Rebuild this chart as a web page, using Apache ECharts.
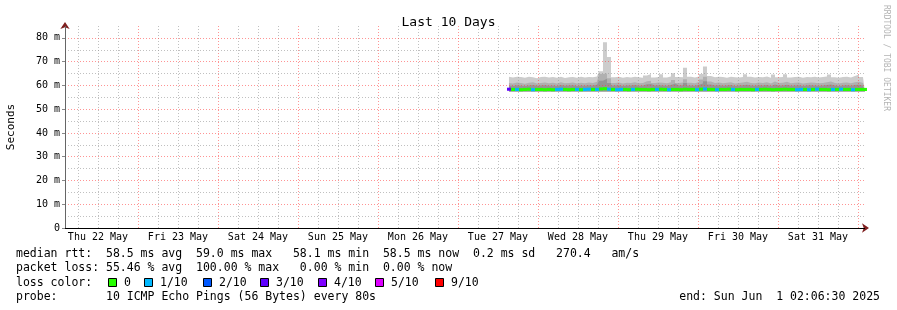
<!DOCTYPE html>
<html><head><meta charset="utf-8">
<script src="https://cdn.jsdelivr.net/npm/echarts@6/dist/echarts.min.js"></script>
<style>html,body{margin:0;padding:0;background:#fff}#c{width:897px;height:310px}</style>
</head><body><div id="c"></div><script>
// ---- data ----
const dayLabels = ['Thu 22 May','Fri 23 May','Sat 24 May','Sun 25 May','Mon 26 May','Tue 27 May','Wed 28 May','Thu 29 May','Fri 30 May','Sat 31 May'];
const yTickValues = [0,10,20,30,40,50,60,70,80];
const axisBase = new Date(2025,4,22,0,0,0);      // day 0 of the x scale
const graphEnd = new Date(2025,5,1,2,6,30);       // "end: Sun Jun  1 02:06:30 2025"
const firstSample = new Date(2025,4,27,15,18,0);
const sampleMinutes = 72;
const smokeFloor = 57.4;                          // lowest ping, ms
// smoke top (max ping), ms
const smokeHi = [
 63.6,63.3,63.6,63.5,63.2,63.6,63.4,63.0,63.5,63.6,
 63.3,63.5,63.2,63.6,63.1,63.4,63.5,63.2,63.6,63.3,
 63.5,63.4,63.8,66.0,78.2,72.0,63.4,63.6,63.2,63.5,
 63.3,63.6,63.4,63.2,64.2,64.8,63.3,63.5,64.7,63.3,
 63.8,65.1,63.5,63.4,67.4,63.6,63.3,63.8,64.8,68.0,
 64.0,63.4,63.6,63.5,63.2,63.6,63.4,63.3,63.5,64.7,
 63.6,63.3,63.5,63.4,63.7,63.2,64.6,63.4,63.5,64.7,
 63.3,63.5,63.6,63.2,63.5,63.4,63.6,63.3,63.5,63.7,
 64.6,63.4,63.2,63.5,63.6,63.3,64.0,64.6,63.5,63.4];
const smokeMid = [
 61.0,60.8,61.2,61.0,60.7,61.1,61.3,60.8,61.0,61.2,
 60.9,61.1,60.8,61.3,60.9,61.0,61.2,60.8,61.1,60.9,
 61.2,61.0,61.5,64.8,65.0,63.0,61.0,61.2,60.8,61.1,
 61.0,61.3,60.9,61.0,61.8,62.0,61.0,61.2,61.1,60.9,
 61.3,62.3,61.0,61.2,62.6,61.1,60.9,61.4,62.5,63.6,
 61.6,61.0,61.2,60.9,61.1,61.3,60.8,61.0,61.2,61.5,
 61.0,60.9,61.2,61.0,61.3,60.8,61.6,61.0,61.1,61.5,
 60.9,61.1,61.2,60.8,61.0,61.2,61.1,60.9,61.0,61.3,
 61.6,61.0,60.8,61.1,61.2,60.9,61.3,61.5,61.0,61.1];
const smokeDark = [
 60.0,59.8,60.1,59.9,59.8,60.0,60.2,59.9,60.0,60.1,
 59.9,60.0,59.8,60.2,59.9,60.0,60.1,59.8,60.0,59.9,
 60.1,60.0,60.3,62.0,62.8,61.0,60.0,60.1,59.8,60.0,
 60.0,60.2,59.9,60.0,60.5,60.6,60.0,60.1,60.0,59.9,
 60.2,60.8,60.0,60.1,61.0,60.0,59.9,60.3,60.8,61.8,
 60.4,60.0,60.1,59.9,60.0,60.2,59.8,60.0,60.1,60.3,
 60.0,59.9,60.1,60.0,60.2,59.8,60.4,60.0,60.0,60.3,
 59.9,60.0,60.1,59.8,60.0,60.1,60.0,59.9,60.0,60.2,
 60.4,60.0,59.8,60.0,60.1,59.9,60.2,60.3,60.0,60.0];
const medianRtt = [
 58.4,58.3,58.3,58.2,58.3,58.4,58.2,58.3,58.3,58.2,
 58.3,58.2,58.3,58.4,58.3,58.2,58.3,58.3,58.2,58.3,
 58.4,58.3,58.3,58.5,58.6,58.4,58.3,58.2,58.3,58.3,
 58.2,58.3,58.4,58.3,58.3,58.2,58.3,58.3,58.4,58.3,
 58.2,58.3,58.3,58.2,58.4,58.3,58.3,58.2,58.4,58.5,
 58.3,58.3,58.2,58.3,58.3,58.4,58.3,58.2,58.3,58.3,
 58.3,58.2,58.3,58.3,58.4,58.3,58.2,58.3,58.3,58.4,
 58.3,58.3,58.2,58.3,58.3,58.2,58.3,58.4,58.3,58.3,
 58.2,58.3,58.3,58.4,58.3,58.3,58.2,58.3,58.3,58.3];
const lossTenths = [
 3,0,1,0,0,0,1,0,0,0,
 0,0,1,1,0,0,0,1,0,1,
 1,0,1,0,0,1,0,1,1,0,
 0,1,0,0,0,0,0,1,0,0,
 1,0,0,0,0,0,0,1,0,1,
 0,0,1,0,0,0,1,0,0,0,
 0,0,1,0,0,0,0,0,0,0,
 0,0,1,1,0,1,0,1,0,0,
 0,1,0,1,0,0,1,0,0,0];
const lossLabels = ['0','1/10','2/10','3/10','4/10','5/10','9/10'];
const lossColors = ['#26ff00','#00b8ff','#0059ff','#5e00ff','#7e00ff','#dd00ff','#ff0000'];
const lossValues = [0,1,2,3,4,5,9];
const statLines = [
 'median rtt:  58.5 ms avg  59.0 ms max   58.1 ms min  58.5 ms now  0.2 ms sd   270.4   am/s',
 'packet loss: 55.46 % avg  100.00 % max   0.00 % min  0.00 % now',
 'loss color:',
 'probe:       10 ICMP Echo Pings (56 Bytes) every 80s'
];
const endText = 'end: Sun Jun  1 02:06:30 2025';
const titleText = 'Last 10 Days';
const watermark = 'RRDTOOL / TOBI OETIKER';

// ---- build ----
const DAY = 86400000;
const toDay = d => (d - axisBase) / DAY;
const xMax = toDay(graphEnd);
const xMin = xMax - 10;
const stepDays = sampleMinutes / 1440;
const times = smokeHi.map((_, i) => toDay(new Date(firstSample.getTime() + i * sampleMinutes * 60000)));
const pts = arr => arr.map((v, i) => [times[i], v]);
const lossColor = l => { let c = lossColors[0]; lossValues.forEach((v, i) => { if (l >= v) c = lossColors[i]; }); return c; };

const MONO = '"DejaVu Sans Mono", monospace';
const TXT = '11.5px ' + MONO;
const majorDays = [];
for (let d = Math.ceil(xMin); d <= xMax; d++) majorDays.push(d);
const minorDays = [];
for (let q = Math.ceil(xMin * 4); q <= xMax * 4; q++) if (q % 4 !== 0) minorDays.push(q / 4);
const majorY = [10,20,30,40,50,60,70,80];
const minorY = [5,15,25,35,45,55,65,75];

const redLine = {color: 'rgba(255,60,60,0.55)', width: 1, type: [1, 2]};
const greyLine = {color: 'rgba(150,150,150,0.6)', width: 1, type: [1, 2]};
const gridMarks = [];
majorDays.forEach(v => gridMarks.push({xAxis: v, lineStyle: redLine}));
minorDays.forEach(v => gridMarks.push({xAxis: v, lineStyle: greyLine}));
majorY.forEach(v => gridMarks.push({yAxis: v, lineStyle: redLine}));
minorY.forEach(v => gridMarks.push({yAxis: v, lineStyle: greyLine}));

function band(name, top, color) {
  return {name, type: 'line', data: pts(top), step: 'middle', symbol: 'none', z: 2,
    lineStyle: {width: 0, opacity: 0}, areaStyle: {color, opacity: 1, origin: smokeFloor}, silent: true, animation: false};
}

const HALF = 0.65; // half thickness of the median band, ms
const graphics = [];
statLines.forEach((t, i) => graphics.push({type: 'text', x: 16, y: 254 + i * 14.3,
  style: {text: t, font: TXT, fill: '#000', verticalAlign: 'middle'}}));
graphics.push({type: 'text', x: 880, y: 297, style: {text: endText, font: TXT, fill: '#000', align: 'right', verticalAlign: 'middle'}});
const boxX = [108,144,203,260,318,375,435];
lossLabels.forEach((lab, i) => {
  graphics.push({type: 'rect', shape: {x: boxX[i] + 0.5, y: 278.5, width: 8, height: 8},
    style: {fill: lossColors[i], stroke: '#000', lineWidth: 1}});
  graphics.push({type: 'text', x: boxX[i] + 16, y: 283, style: {text: lab, font: TXT, fill: '#000', verticalAlign: 'middle'}});
});
graphics.push({type: 'text', x: 886, y: 5, rotation: -Math.PI / 2,
  style: {text: watermark, font: '8px ' + MONO, fill: '#b4b4b4', verticalAlign: 'middle'}});

const chart = echarts.init(document.getElementById('c'), null, {renderer: 'canvas'});
chart.setOption({
  animation: false,
  backgroundColor: '#fff',
  title: {text: titleText, left: 'center', top: 11,
    textStyle: {fontFamily: MONO, fontSize: 13, fontWeight: 'normal', color: '#000'}},
  grid: {left: 65, top: 26, width: 800, height: 202, containLabel: false, outerBoundsMode: 'none'},
  xAxis: {type: 'value', min: xMin, max: xMax, splitNumber: 10,
    axisLine: {show: true, onZero: false, symbol: ['none', 'arrow'], symbolSize: [7, 7], symbolOffset: [0, 4],
      lineStyle: {color: '#7f1f1f', width: 1}},
    axisTick: {show: false}, splitLine: {show: false},
    axisLabel: {fontFamily: MONO, fontSize: 10, color: '#000', margin: 4, padding: [0, 80, 0, 0],
      formatter: v => { const r = Math.round(v); if (Math.abs(v - r) > 1e-6) return ''; return dayLabels[r - 1] || ''; }}},
  yAxis: {type: 'value', min: 0, max: 85, interval: 10,
    name: 'Seconds', nameLocation: 'middle', nameGap: 48, nameRotate: 90,
    nameTextStyle: {fontFamily: MONO, fontSize: 11, color: '#000'},
    axisLine: {show: true, symbol: ['none', 'arrow'], symbolSize: [7, 7], symbolOffset: [0, 4],
      lineStyle: {color: '#7f1f1f', width: 1}},
    axisTick: {show: true, length: 3, lineStyle: {color: '#888'}},
    splitLine: {show: false},
    axisLabel: {fontFamily: MONO, fontSize: 10, color: '#000', margin: 5,
      formatter: v => v === 0 ? '0' : (yTickValues.indexOf(v) >= 0 ? v + ' m' : '')}},
  graphic: graphics,
  series: [
    band('smokeHi', smokeHi, '#cccccc'),
    band('smokeMid', smokeMid, '#b0b0b0'),
    band('smokeDark', smokeDark, '#959595'),
    {name: 'grid', type: 'line', data: [], z: 3, silent: true,
      markLine: {silent: true, symbol: ['none', 'none'], label: {show: false}, animation: false, data: gridMarks.concat([
        {yAxis: 0, lineStyle: {color: '#000', width: 1, type: 'solid'}},
        {xAxis: xMin, lineStyle: {color: '#666', width: 1, type: 'solid'}}])}},
    {name: 'median', type: 'custom', z: 5, silent: true, animation: false,
      data: medianRtt.map((v, i) => [times[i], v, lossTenths[i]]),
      renderItem: (params, api) => {
        const x = api.value(0), y = api.value(1);
        const top = api.coord([x - stepDays / 2, y + HALF]);
        const bot = api.coord([x + stepDays / 2, y - HALF]);
        return {type: 'rect', shape: {x: top[0], y: top[1], width: bot[0] - top[0], height: bot[1] - top[1]},
          style: {fill: lossColor(api.value(2))}};
      }}
  ]
});
</script></body></html>
